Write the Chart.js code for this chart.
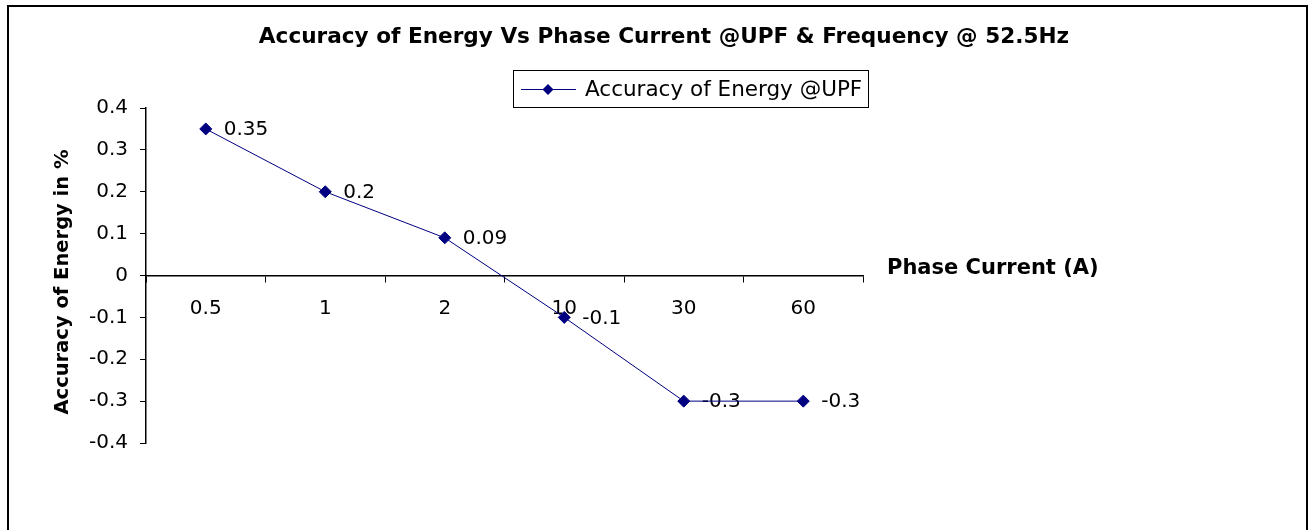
<!DOCTYPE html>
<html>
<head>
<meta charset="utf-8">
<script src="https://cdn.jsdelivr.net/npm/chart.js@4.4.1/dist/chart.umd.min.js"></script>
<style>
  html, body { margin: 0; padding: 0; background: #fff; }
  #wrap { width: 1311px; height: 530px; }
</style>
</head>
<body>
<div id="wrap"><canvas id="chart" width="1311" height="530"></canvas></div>
<script>
const categories = ['0.5', '1', '2', '10', '30', '60']
const accuracy = [0.35, 0.2, 0.09, -0.1, -0.3, -0.3]
const seriesName = 'Accuracy of Energy @UPF'
const chartTitle = 'Accuracy of Energy Vs Phase Current @UPF & Frequency @ 52.5Hz'
const xTitle = 'Phase Current (A)'
const yTitle = 'Accuracy of Energy in %'

const FONT = "'DejaVu Sans', sans-serif"
const NAVY = '#000080'

// frame, title, legend box and axis titles, drawn like the old Excel chart
const decorations = {
  id: 'decorations',
  beforeDraw(chart) {
    const ctx = chart.ctx
    ctx.save()
    ctx.fillStyle = '#fff'
    ctx.fillRect(0, 0, chart.width, chart.height)
    ctx.strokeStyle = '#000'
    ctx.lineWidth = 2
    ctx.strokeRect(8, 6, 1299, 600)
    ctx.restore()
  },
  afterDraw(chart) {
    const ctx = chart.ctx
    const ds = chart.data.datasets[0]
    ctx.save()
    ctx.fillStyle = '#000'
    ctx.textBaseline = 'middle'

    ctx.font = 'bold 21.6px ' + FONT
    ctx.textAlign = 'center'
    ctx.fillText(chartTitle, 664, 37)

    // legend
    ctx.strokeStyle = '#000'
    ctx.lineWidth = 1
    ctx.strokeRect(513.5, 70.5, 355, 37)
    ctx.strokeStyle = ds.borderColor
    ctx.beginPath()
    ctx.moveTo(521, 89.5)
    ctx.lineTo(576, 89.5)
    ctx.stroke()
    ctx.fillStyle = ds.pointBackgroundColor
    ctx.beginPath()
    ctx.moveTo(548, 84); ctx.lineTo(553.5, 89.5); ctx.lineTo(548, 95); ctx.lineTo(542.5, 89.5)
    ctx.closePath()
    ctx.fill()
    ctx.fillStyle = '#000'
    ctx.font = '21.5px ' + FONT
    ctx.textAlign = 'left'
    ctx.fillText(ds.label, 585, 90)

    // x axis title, right of the zero line
    const y0 = chart.scales.y.getPixelForValue(0)
    ctx.font = 'bold 21px ' + FONT
    ctx.fillText(xTitle, 887, y0 - 7)

    // y axis title
    ctx.translate(63, 282)
    ctx.rotate(-Math.PI / 2)
    ctx.textAlign = 'center'
    ctx.font = 'bold 19.5px ' + FONT
    ctx.fillText(yTitle, 0, 0)
    ctx.restore()
  },
  beforeDatasetsDraw(chart) {
    // point value labels, under the line like in the original
    const ctx = chart.ctx
    const meta = chart.getDatasetMeta(0)
    ctx.save()
    ctx.fillStyle = '#000'
    ctx.font = '20px ' + FONT
    ctx.textAlign = 'left'
    ctx.textBaseline = 'middle'
    meta.data.forEach((pt, i) => {
      ctx.fillText(String(accuracy[i]), pt.x + 18, pt.y + 1)
    })
    ctx.restore()
  }
}

new Chart(document.getElementById('chart'), {
  type: 'line',
  data: {
    labels: categories,
    datasets: [{
      label: seriesName,
      data: accuracy,
      borderColor: NAVY,
      backgroundColor: NAVY,
      pointBackgroundColor: NAVY,
      pointBorderColor: NAVY,
      borderWidth: 1,
      pointStyle: 'rectRot',
      pointRadius: 6,
      tension: 0,
      fill: false
    }]
  },
  options: {
    responsive: false,
    animation: false,
    events: [],
    layout: { padding: { left: 48, right: 448, top: 108, bottom: 87 } },
    plugins: {
      legend: { display: false },
      title: { display: false },
      tooltip: { enabled: false }
    },
    scales: {
      x: {
        type: 'category',
        position: { y: 0 },
        offset: true,
        grid: { offset: true, drawOnChartArea: false, drawTicks: true, tickLength: 6, color: '#000', lineWidth: 1 },
        border: { display: true, color: '#000', width: 1.5 },
        ticks: { color: '#000', padding: 15, font: { family: FONT, size: 20 } }
      },
      y: {
        min: -0.4,
        max: 0.4,
        afterFit(scale) { scale.width = 146 - 48 },
        grid: { drawOnChartArea: false, drawTicks: true, tickLength: 6, color: '#000', lineWidth: 1 },
        border: { display: true, color: '#000', width: 1.5 },
        ticks: {
          stepSize: 0.1,
          color: '#000',
          padding: 12,
          font: { family: FONT, size: 20 },
          callback: (v) => String(Math.round(v * 10) / 10)
        }
      }
    }
  },
  plugins: [decorations]
})
</script>
</body>
</html>
